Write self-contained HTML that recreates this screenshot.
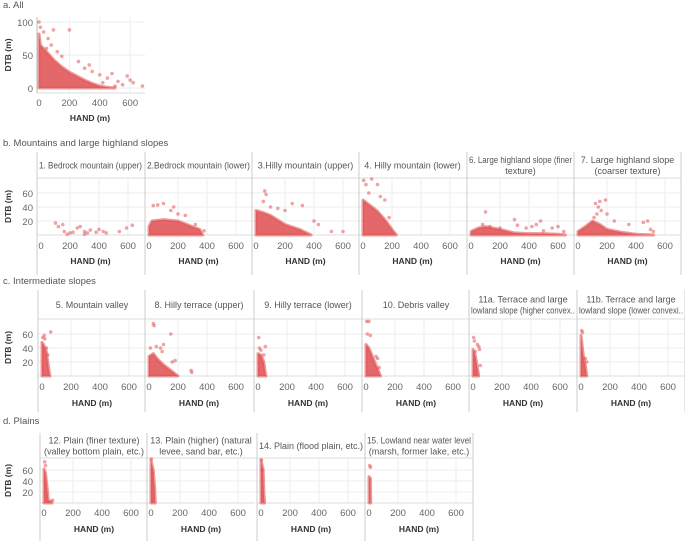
<!DOCTYPE html>
<html><head><meta charset="utf-8"><style>
body{margin:0;background:#fff;}
svg{display:block;font-family:"Liberation Sans",sans-serif;}
</style></head><body>
<svg id="chart" width="685" height="541" viewBox="0 0 685 541"></svg>
<script>
// ---- data: each panel: envelope of dense cloud [HAND, maxDTB] and scattered points [HAND, DTB]
const panelTitles = [
 ["1. Bedrock mountain (upper)"],["2.Bedrock mountain (lower)"],["3.Hilly mountain (upper)"],["4. Hilly mountain (lower)"],["6. Large highland slope (finer","texture)"],["7. Large highland slope","(coarser texture)"],
 ["5. Mountain valley"],["8. Hilly terrace (upper)"],["9. Hilly terrace (lower)"],["10. Debris valley"],["11a. Terrace and large","lowland slope (higher convex.."],["11b. Terrace and large","lowland slope (lower convexi.."],
 ["12. Plain (finer texture)","(valley bottom plain, etc.)"],["13. Plain (higher) (natural","levee, sand bar, etc.)"],["14. Plain (flood plain, etc.)"],["15. Lowland near water level","(marsh, former lake, etc.)"]
];
const envAll = [[0,82],[10,65],[50,55],[100,42],[150,32],[200,24],[250,18],[300,12],[350,7],[400,3],[450,1],[500,0]];
const ptsAll = [[0,100],[10,92],[30,85],[60,75],[95,88],[200,88],[120,55],[150,48],[260,40],[300,30],[330,35],[350,25],[400,20],[450,15],[480,22],[520,10],[550,5],[580,18],[600,12],[620,8],[680,3],[500,3],[420,8],[50,60],[80,65]];
const envs = [
 [],
 [[0,12],[20,20],[100,22],[200,20],[300,12],[350,8],[370,0]],
 [[0,35],[50,32],[100,28],[200,15],[300,8],[350,3],[380,0]],
 [[0,50],[50,42],[100,34],[150,22],[200,8],[230,0]],
 [[0,5],[50,10],[100,12],[200,8],[300,3],[400,2],[500,2],[600,1],[650,0]],
 [[0,5],[50,12],[100,20],[150,15],[200,8],[300,4],[400,1],[520,0]],
 [[0,48],[10,45],[30,35],[50,5],[55,0]],
 [[0,28],[30,32],[60,24],[100,16],[150,8],[200,0]],
 [[0,32],[20,30],[40,20],[50,5],[55,0]],
 [[0,45],[20,40],[40,30],[60,20],[90,5],[100,0]],
 [[0,38],[15,30],[30,12],[40,0]],
 [[0,58],[5,50],[15,30],[30,15],[40,0]],
 [[0,62],[10,55],[25,20],[30,5],[50,3],[55,0]],
 [[0,78],[15,60],[25,30],[30,0]],
 [[0,78],[15,60],[20,20],[25,0]],
 [[0,48],[10,45],[12,0]]
];
const pts = [
 [[100,17],[120,12],[150,15],[160,5],[200,3],[220,4],[250,10],[270,12],[300,5],[320,3],[340,7],[380,4],[400,8],[430,5],[450,3],[540,5],[590,10],[630,14],[180,1],[300,1]],
 [[30,42],[60,43],[100,45],[150,35],[200,30],[250,28],[170,40],[320,15],[380,6]],
 [[60,63],[70,58],[50,48],[100,40],[150,38],[250,45],[320,42],[400,20],[430,15],[520,5],[600,5],[200,35]],
 [[5,78],[20,72],[60,80],[100,72],[120,55],[150,50],[40,60],[180,25]],
 [[100,33],[80,15],[130,12],[200,10],[300,22],[320,14],[380,10],[420,12],[450,15],[480,20],[500,6],[560,10],[600,12],[640,5]],
 [[120,45],[150,48],[190,50],[140,40],[160,35],[110,25],[130,30],[200,30],[250,20],[350,15],[450,18],[480,20],[500,8],[520,5]],
 [[5,55],[15,58],[60,63],[30,40],[40,30],[20,53]],
 [[30,75],[35,72],[80,40],[90,35],[100,45],[150,60],[160,20],[180,22],[290,8],[295,5],[50,42],[10,40]],
 [[5,55],[10,40],[50,42],[40,30],[20,37]],
 [[5,78],[20,78],[10,60],[30,58],[70,28],[80,25],[90,12]],
 [[5,55],[10,50],[40,42],[45,38],[50,15],[30,45],[15,35]],
 [[10,62],[5,65],[30,25],[40,20]],
 [[5,75],[10,68],[60,5]],
 [[3,80],[10,55]],
 [[3,78],[8,60]],
 [[5,68],[10,65]]
];
const xTicks = [0,200,400,600];
const yTicksSmall = [20,40,60];
const yTicksAll = [0,50,100];
const sectionTitles = ["a. All","b. Mountains and large highland slopes","c. Intermediate slopes","d. Plains"];

// ---- layout
const rows = [
 {lefts:[37,145,252,359,467,574], w:107, hTop:152, pTop:178, pBot:235, ppu:0.7, tickY:249, handY:264, end:275, first:0},
 {lefts:[38,145,254,362,469,577], w:108, hTop:290, pTop:319, pBot:376, ppu:0.7, tickY:390, handY:406, end:412, first:6},
 {lefts:[40,147,257,365], w:108, hTop:433, pTop:458, pBot:503, ppu:0.55, tickY:516, handY:532, end:541, first:12}
];
const sectionY = [8,146,284,424];
const RED = "#e15759";
const NS = "http://www.w3.org/2000/svg";
const svg = document.getElementById('chart');
function mk(tag, attrs, parent){const e=document.createElementNS(NS,tag);for(const k in attrs)e.setAttribute(k,attrs[k]);(parent||svg).appendChild(e);return e;}
function txt(s, attrs, parent){const e=mk('text',attrs,parent);e.textContent=s;return e;}

sectionTitles.forEach((s,i)=>{
  const t=txt(s,{x:3,y:sectionY[i],'font-size':9.5,fill:'#555'});
  
  
});

function drawPanel(g, xs, ys, env, p){
  if(env.length){
    let d='M'+xs(env[0][0])+','+ys(0);
    env.forEach(v=>{d+=' L'+xs(v[0]).toFixed(1)+','+ys(v[1]).toFixed(1);});
    d+=' L'+xs(env[env.length-1][0]).toFixed(1)+','+ys(0)+' Z';
    const a=mk('path',{d:d,fill:RED,'fill-opacity':0.9,stroke:RED,'stroke-opacity':0.6,'stroke-width':3,'stroke-linejoin':'round'},g);
    
    
  }
  p.forEach(v=>{
    const c=mk('circle',{cx:xs(v[0]).toFixed(1),cy:ys(v[1]).toFixed(1),r:1.8,fill:RED,'fill-opacity':0.55},g);
    
    
  });
}

// ---- panel a
(function(){
  const g=mk('g',{});
  
  
  const xs=h=>39+h*0.152, ys=v=>88-v*0.66;
  yTicksAll.forEach(t=>{mk('line',{x1:37,x2:145,y1:ys(t),y2:ys(t),stroke:'#eee'},g);
    txt(t,{x:33,y:ys(t)+4,'font-size':9.5,fill:'#666','text-anchor':'end'},g);});
  xTicks.forEach(t=>{ if(t>0) mk('line',{x1:xs(t),x2:xs(t),y1:17,y2:93,stroke:'#eee'},g);
    txt(t,{x:xs(t),y:106,'font-size':9.5,fill:'#666','text-anchor':'middle'},g);});
  mk('line',{x1:37,x2:37,y1:17,y2:93,stroke:'#bbb'},g);
  mk('line',{x1:37,x2:145,y1:93,y2:93,stroke:'#ddd'},g);
  drawPanel(g,xs,ys,envAll,ptsAll);
  const hl=txt('HAND (m)',{x:90,y:121,'font-size':8.5,'font-weight':'bold',fill:'#333','text-anchor':'middle'},g);
  
  
  const yl=txt('DTB (m)',{x:0,y:0,'font-size':8.5,'font-weight':'bold',fill:'#333','text-anchor':'middle',transform:'translate(11,55) rotate(-90)'},g);
  
  
})();

// ---- small multiples
rows.forEach(r=>{
  const right=r.lefts[r.lefts.length-1]+r.w;
  mk('line',{x1:r.lefts[0],x2:right,y1:r.pTop,y2:r.pTop,stroke:'#ddd'});
  const ys=v=>r.pBot-v*r.ppu;
  yTicksSmall.forEach(t=>{
    mk('line',{x1:r.lefts[0],x2:right,y1:ys(t),y2:ys(t),stroke:'#eee'});
    const tl=txt(t,{x:33,y:ys(t)+4,'font-size':9.5,fill:'#666','text-anchor':'end'});
    
    
  });
  const yl=txt('DTB (m)',{x:0,y:0,'font-size':8.5,'font-weight':'bold',fill:'#333','text-anchor':'middle',transform:'translate(11,'+((r.pTop+r.pBot)/2)+') rotate(-90)'});
  
  
  r.lefts.forEach((L,i)=>{
    const idx=r.first+i;
    const g=mk('g',{});
    
    
    const xs=h=>L+4+h*0.145;
    xTicks.forEach(t=>{ if(t>0) mk('line',{x1:xs(t),x2:xs(t),y1:r.pTop,y2:r.pBot,stroke:'#eee'},g);
      txt(t,{x:xs(t),y:r.tickY,'font-size':9.5,fill:'#666','text-anchor':'middle'},g);});
    mk('line',{x1:L,x2:L+r.w,y1:r.pBot,y2:r.pBot,stroke:'#ddd'},g);
    drawPanel(g,xs,ys,envs[idx],pts[idx]);
    const lines=panelTitles[idx];
    const cy=(r.hTop+r.pTop)/2;
    lines.forEach((s,k)=>{
      const t=txt(s,{x:L+r.w/2,y:cy+3.5+(k-(lines.length-1)/2)*11,'font-size':9,fill:'#555','text-anchor':'middle'},g);
      
      
      const len=t.getComputedTextLength();
      if(len>r.w-4){t.setAttribute('textLength',r.w-4);t.setAttribute('lengthAdjust','spacingAndGlyphs');}
    });
    const hl=txt('HAND (m)',{x:L+r.w/2,y:r.handY,'font-size':8.5,'font-weight':'bold',fill:'#333','text-anchor':'middle'},g);
    
    
  });
  r.lefts.concat([right]).forEach(L=>{
    mk('line',{x1:L,x2:L,y1:r.hTop,y2:r.end,stroke:'#ccc'});
  });
});
</script>
</body></html>
